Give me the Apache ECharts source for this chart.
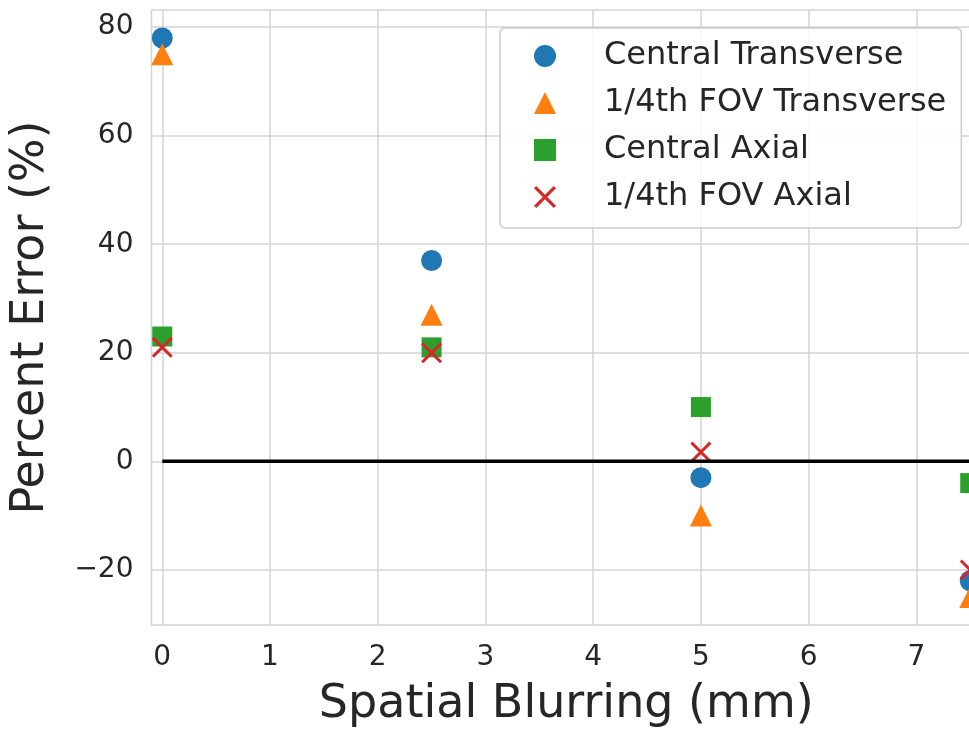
<!DOCTYPE html>
<html>
<head>
<meta charset="utf-8">
<script src="https://cdn.jsdelivr.net/npm/echarts@6/dist/echarts.min.js"></script>
<style>
html,body{margin:0;padding:0;background:#fff;overflow:hidden;}
#chart{width:981px;height:733px;}
</style>
</head>
<body>
<div id="chart"></div>
<script>
const blurring = [0, 2.5, 5, 7.5];
const centralTransverse = [78, 37, -3, -22];
const quarterTransverse = [75, 27, -10, -25];
const centralAxial = [23, 21, 10, -4];
const quarterAxial = [21, 20, 1.7, -20];
const xTicks = [0, 1, 2, 3, 4, 5, 6, 7];
const yTicks = [-20, 0, 20, 40, 60, 80];
const seriesNames = ['Central Transverse', '1/4th FOV Transverse', 'Central Axial', '1/4th FOV Axial'];

const FONT = 'DejaVu Sans';
const TXT = '#262626';
const GRIDC = '#d3d3d3';
const xPath = 'path://M2,0 L10,8 L18,0 L20,2 L12,10 L20,18 L18,20 L10,12 L2,20 L0,18 L8,10 L0,2 Z';

function pts(vals) { return blurring.map((x, i) => [x, vals[i]]); }
function fmt(v) { return String(v).replace('-', '\u2212'); }

const chart = echarts.init(document.getElementById('chart'), null, {renderer: 'canvas'});
chart.setOption({
  animation: false,
  backgroundColor: '#ffffff',
  grid: {left: 151.5, right: 0, top: 10, bottom: 105, show: true, borderColor: GRIDC, borderWidth: 1.5, containLabel: false},
  legend: {
    data: seriesNames,
    orient: 'vertical',
    left: 500, top: 28,
    padding: [10, 15, 13, 34],
    itemWidth: 22, itemHeight: 22, itemGap: 11,
    backgroundColor: 'rgba(255,255,255,0.8)',
    borderColor: '#cccccc', borderWidth: 1.5, borderRadius: 5,
    textStyle: {fontFamily: FONT, fontSize: 32, color: TXT, lineHeight: 36, padding: [0, 0, 0, 43]}
  },
  xAxis: {
    type: 'value', min: -0.1, max: 7.6,
    name: 'Spatial Blurring (mm)', nameLocation: 'middle', nameGap: 57,
    nameTextStyle: {fontFamily: FONT, fontSize: 46, color: TXT},
    axisLine: {show: false}, axisTick: {show: false, customValues: xTicks},
    axisLabel: {customValues: xTicks, fontFamily: FONT, fontSize: 28, color: TXT, margin: 19, formatter: fmt},
    splitLine: {show: true, lineStyle: {color: GRIDC, width: 1.5}}
  },
  yAxis: {
    type: 'value', min: -30.15, max: 83.15,
    name: 'Percent Error (%)', nameLocation: 'middle', nameGap: 97,
    nameTextStyle: {fontFamily: FONT, fontSize: 46, color: TXT},
    axisLine: {show: false}, axisTick: {show: false, customValues: yTicks},
    axisLabel: {customValues: yTicks, fontFamily: FONT, fontSize: 28, color: TXT, margin: 18, padding: [8, 0, 0, 0], formatter: fmt},
    splitLine: {show: true, lineStyle: {color: GRIDC, width: 1.5}}
  },
  series: [
    {name: 'zero', type: 'line', data: [[0, 0], [7.6, 0]], showSymbol: false, silent: true,
     lineStyle: {color: '#000', width: 3.5}, z: 5},
    {name: seriesNames[0], type: 'scatter', data: pts(centralTransverse), symbol: 'circle', symbolSize: 21,
     itemStyle: {color: '#1f77b4', opacity: 1}, z: 3, clip: false},
    {name: seriesNames[1], type: 'scatter', data: pts(quarterTransverse), symbol: 'triangle', symbolSize: 22,
     itemStyle: {color: '#ff7f0e', opacity: 1}, z: 3, clip: false},
    {name: seriesNames[2], type: 'scatter', data: pts(centralAxial), symbol: 'rect', symbolSize: 20,
     itemStyle: {color: '#2ca02c', opacity: 1}, z: 3, clip: false},
    {name: seriesNames[3], type: 'scatter', data: pts(quarterAxial), symbol: xPath, symbolSize: 21,
     itemStyle: {color: '#d62728', opacity: 1}, z: 3, clip: false}
  ]
});
</script>
</body>
</html>
